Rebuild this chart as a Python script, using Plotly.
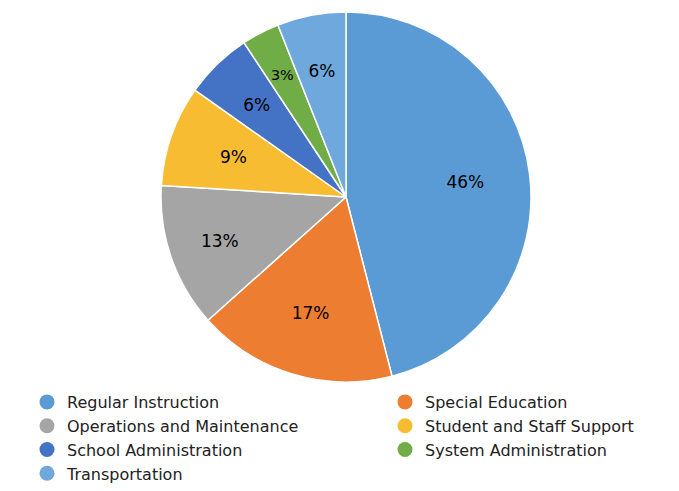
import plotly.graph_objects as go

categories = ["Regular Instruction", "Special Education", "Operations and Maintenance",
              "Student and Staff Support", "School Administration", "System Administration",
              "Transportation"]
values = [46.0, 17.4, 12.6, 8.8, 5.9, 3.3, 6.0]
labels_text = ["46%", "17%", "13%", "9%", "6%", "3%", "6%"]
colors = ["#5B9BD5", "#ED7D31", "#A5A5A5", "#F8BC33", "#4472C4", "#70AD47", "#6FA8DC"]
# which label layer carries each slice's text: outer ring (large slices) or inner disc (small)
label_layer = ["outer", "outer", "outer", "inner", "inner", "inner", "inner"]

W, H = 679, 491
cx, cy, R = 346, 197, 185
R_inner = 152
top = 12
plot_h = H - top
cy_frac = (H - cy) / plot_h


def dom(r):
    return dict(x=[(cx - r) / W, (cx + r) / W],
                y=[cy_frac - r / plot_h, cy_frac + r / plot_h])


common = dict(labels=categories, values=values, sort=False, direction="clockwise",
              rotation=0, showlegend=False)
clear = dict(colors=["rgba(0,0,0,0)"] * len(values), line=dict(width=0))
tfont = dict(color="black", size=17, family="DejaVu Sans")

fig = go.Figure()
fig.add_trace(go.Pie(
    **common, textinfo="none",
    marker=dict(colors=colors, line=dict(color="white", width=1.5)),
    hoverinfo="label+percent", domain=dom(R),
))
for layer, r, hole in [("outer", R, 0.3), ("inner", R_inner, 0)]:
    txt = [t if l == layer else "" for t, l in zip(labels_text, label_layer)]
    fig.add_trace(go.Pie(
        **common, text=txt, textinfo="text", textposition="inside",
        insidetextorientation="horizontal", hole=hole,
        marker=clear, textfont=tfont, hoverinfo="skip", domain=dom(r),
    ))

for i, (name, col) in enumerate(zip(categories, colors)):
    fig.add_trace(go.Scatter(x=[None], y=[None], mode="markers", name=name,
                             legend="legend" if i % 2 == 0 else "legend2",
                             marker=dict(symbol="circle", size=15, color=col)))

leg_common = dict(y=(H - 385) / plot_h, xanchor="left", yanchor="top",
                  font=dict(size=16, family="DejaVu Sans", color="#222"),
                  itemsizing="trace", tracegroupgap=0, bgcolor="rgba(0,0,0,0)")

fig.update_layout(
    width=W, height=H,
    margin=dict(l=0, r=0, t=top, b=0, autoexpand=False),
    paper_bgcolor="white", plot_bgcolor="white",
    xaxis=dict(visible=False), yaxis=dict(visible=False),
    legend=dict(x=27 / W, **leg_common),
    legend2=dict(x=385 / W, **leg_common),
)
fig.write_html("out.html", config={"displayModeBar": False},
               post_script="document.body.style.margin='0';")
